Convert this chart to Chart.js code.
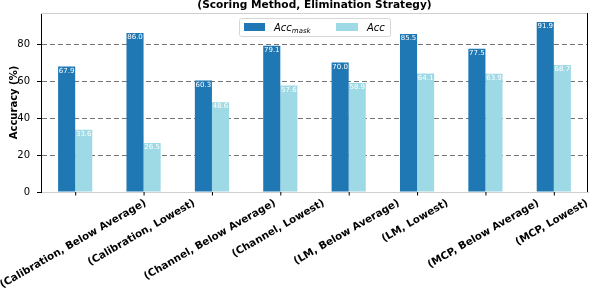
<!DOCTYPE html>
<html>
<head>
<meta charset="utf-8">
<script src="https://cdn.jsdelivr.net/npm/chart.js@4.4.1/dist/chart.umd.min.js"></script>
<style>
  body { margin: 0; background: #fff; }
  #wrap { width: 592px; height: 292px; }
</style>
</head>
<body>
<div id="wrap"><canvas id="chart" width="592" height="292"></canvas></div>
<script>
// categories are (scoring method, elimination strategy) pairs
var categories = [
  '(Calibration, Below Average)', '(Calibration, Lowest)',
  '(Channel, Below Average)', '(Channel, Lowest)',
  '(LM, Below Average)', '(LM, Lowest)',
  '(MCP, Below Average)', '(MCP, Lowest)'
];
var accMask = [67.9, 86.0, 60.3, 79.1, 70.0, 85.5, 77.5, 91.9];
var acc = [33.6, 26.5, 48.6, 57.6, 58.9, 64.1, 63.9, 68.7];
var yTicks = [0, 20, 40, 60, 80];

var BLUE = '#1f77b4';
var CYAN = '#9edae5';
var FONT = '"DejaVu Sans", sans-serif';

/** draws everything matplotlib-like that chart.js has no option for */
var decorPlugin = {
  id: 'decor',
  afterDatasetsDraw: function(chart) {
    var ctx = chart.ctx;
    var area = chart.chartArea;
    var xs = chart.scales.x;

    ctx.save();

    // top and right spines
    ctx.lineWidth = 1;
    ctx.strokeStyle = '#d0d0d0';
    ctx.beginPath();
    ctx.moveTo(area.left, area.top + 0.5);
    ctx.lineTo(area.right, area.top + 0.5);
    ctx.stroke();
    ctx.strokeStyle = '#000';
    ctx.beginPath();
    ctx.moveTo(area.right - 0.5, area.top);
    ctx.lineTo(area.right - 0.5, area.bottom);
    ctx.stroke();

    // value labels inside the bar tops
    ctx.fillStyle = '#fff';
    ctx.font = '7px ' + FONT;
    ctx.textAlign = 'center';
    ctx.textBaseline = 'top';
    chart.data.datasets.forEach(function(ds, di) {
      var meta = chart.getDatasetMeta(di);
      meta.data.forEach(function(bar, i) {
        ctx.fillText(ds.data[i].toFixed(1), bar.x, bar.y + 1);
      });
    });

    // x tick marks and rotated, centred labels
    ctx.strokeStyle = '#000';
    ctx.fillStyle = '#000';
    ctx.font = 'bold 10.3px ' + FONT;
    ctx.textAlign = 'center';
    ctx.textBaseline = 'middle';
    var ang = 30 * Math.PI / 180;
    categories.forEach(function(label, i) {
      var x = xs.getPixelForValue(i);
      ctx.beginPath();
      ctx.moveTo(x + 0.5, area.bottom);
      ctx.lineTo(x + 0.5, area.bottom + 3.5);
      ctx.stroke();
      var w = ctx.measureText(label).width;
      var h = 10;
      var boxH = w * Math.sin(ang) + h * Math.cos(ang);
      var cy = area.bottom + 6 + boxH / 2;
      ctx.save();
      ctx.translate(x - 2, cy);
      ctx.rotate(-ang);
      ctx.fillText(label, 0, 0);
      ctx.restore();
    });

    // y axis title
    ctx.save();
    ctx.translate(14, (area.top + area.bottom) / 2);
    ctx.rotate(-Math.PI / 2);
    ctx.font = 'bold 10px ' + FONT;
    ctx.fillText('Accuracy (%)', 0, 0);
    ctx.restore();

    // title, clipped at the top like the reference
    ctx.font = 'bold 10.6px ' + FONT;
    ctx.textAlign = 'center';
    ctx.textBaseline = 'alphabetic';
    ctx.fillText('(Scoring Method, Elimination Strategy)', (area.left + area.right) / 2, 8);

    // legend
    var lx = 239, ly = 18, lw = 151, lh = 18;
    ctx.fillStyle = 'rgba(255,255,255,0.85)';
    ctx.strokeStyle = '#d6d6d6';
    ctx.beginPath();
    ctx.roundRect(lx + 0.5, ly + 0.5, lw, lh, 2);
    ctx.fill();
    ctx.stroke();

    ctx.fillStyle = BLUE;
    ctx.fillRect(244, 23, 21, 8);
    ctx.fillStyle = CYAN;
    ctx.fillRect(336, 23, 22, 8);

    ctx.fillStyle = '#000';
    ctx.textAlign = 'left';
    ctx.textBaseline = 'alphabetic';
    ctx.font = 'italic 10px ' + FONT;
    ctx.fillText('Acc', 274, 31);
    var aw = ctx.measureText('Acc').width;
    ctx.font = 'italic 7px ' + FONT;
    ctx.fillText('mask', 274 + aw, 33);
    ctx.font = 'italic 10px ' + FONT;
    ctx.fillText('Acc', 367, 31);

    ctx.restore();
  }
};

var ctx = document.getElementById('chart').getContext('2d');
var chart = new Chart(ctx, {
  type: 'bar',
  data: {
    labels: categories,
    datasets: [
      { label: 'Acc_mask', data: accMask, backgroundColor: BLUE, borderWidth: 0 },
      { label: 'Acc', data: acc, backgroundColor: CYAN, borderWidth: 0 }
    ]
  },
  options: {
    responsive: false,
    animation: false,
    datasets: { bar: { categoryPercentage: 0.5, barPercentage: 1.0 } },
    layout: { padding: { top: 12, right: 4, left: 0, bottom: 0 } },
    plugins: { legend: { display: false }, tooltip: { enabled: false }, title: { display: false } },
    scales: {
      x: {
        ticks: { display: false },
        grid: { display: false },
        border: { display: true, color: '#d0d0d0', width: 1 },
        afterFit: function(scale) { scale.height = 100; }
      },
      y: {
        min: 0,
        max: 96.8,
        z: 1,
        afterBuildTicks: function(scale) {
          scale.ticks = yTicks.map(function(v) { return { value: v }; });
        },
        ticks: {
          color: '#000',
          font: { family: FONT, size: 10 },
          padding: 7
        },
        grid: {
          color: function(c) { return c.tick && c.tick.value === 0 ? 'rgba(0,0,0,0)' : 'rgba(60,60,60,0.7)'; },
          lineWidth: 1,
          drawTicks: true,
          tickLength: 4,
          tickColor: '#000',
          tickBorderDash: [],
          tickWidth: 1
        },
        border: { display: true, color: '#000', width: 1, dash: [5, 3] },
        afterFit: function(scale) { scale.width = 41; }
      }
    }
  },
  plugins: [decorPlugin]
});
</script>
</body>
</html>
